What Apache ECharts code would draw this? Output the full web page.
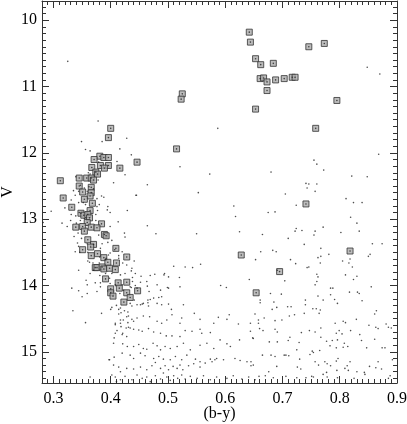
<!DOCTYPE html>
<html>
<head>
<meta charset="utf-8">
<script src="https://cdn.jsdelivr.net/npm/echarts@6/dist/echarts.min.js"></script>
<style>
  html, body { margin: 0; padding: 0; background: #fff; }
  #cmd { width: 407px; height: 424px; }
</style>
</head>
<body>
<div id="cmd"></div>
<script>
// axis ranges and labelled ticks
const xRange = [0.28, 0.90]
const yRange = [9.71, 15.47]
const xTicks = [0.3, 0.4, 0.5, 0.6, 0.7, 0.8, 0.9]
const yTicks = [10, 11, 12, 13, 14, 15]

// boxed stars (b-y, V)
const members = [
  [0.400, 11.63], [0.396, 11.77], [0.381, 12.05], [0.388, 12.07], [0.396, 12.07],
  [0.371, 12.10], [0.382, 12.19], [0.396, 12.19], [0.367, 12.22], [0.389, 12.23],
  [0.416, 12.23], [0.446, 12.14], [0.374, 12.29], [0.377, 12.32], [0.312, 12.42],
  [0.345, 12.38], [0.358, 12.38], [0.366, 12.38], [0.370, 12.41], [0.345, 12.50],
  [0.366, 12.52], [0.351, 12.59], [0.366, 12.60], [0.364, 12.65], [0.317, 12.68],
  [0.354, 12.70], [0.368, 12.76], [0.332, 12.82], [0.364, 12.87], [0.348, 12.91],
  [0.353, 12.94], [0.360, 12.93], [0.363, 12.98], [0.359, 13.05], [0.384, 13.07],
  [0.339, 13.12], [0.351, 13.11], [0.354, 13.18], [0.366, 13.12], [0.376, 13.13],
  [0.389, 13.23], [0.392, 13.25], [0.360, 13.31], [0.370, 13.38], [0.365, 13.42],
  [0.351, 13.46], [0.409, 13.44], [0.377, 13.52], [0.366, 13.55], [0.388, 13.58],
  [0.428, 13.57], [0.395, 13.65], [0.410, 13.66], [0.373, 13.73], [0.376, 13.73],
  [0.385, 13.72], [0.388, 13.75], [0.398, 13.74], [0.408, 13.76], [0.391, 13.90],
  [0.413, 13.96], [0.428, 13.95], [0.447, 14.08], [0.400, 14.05], [0.415, 14.04],
  [0.400, 14.11], [0.404, 14.16], [0.428, 14.11], [0.434, 14.18], [0.423, 14.25],
  [0.642, 10.18], [0.644, 10.33], [0.746, 10.40], [0.773, 10.35], [0.653, 10.58],
  [0.662, 10.67], [0.684, 10.65], [0.661, 10.88], [0.667, 10.87], [0.673, 10.93],
  [0.688, 10.90], [0.703, 10.88], [0.717, 10.86], [0.722, 10.86], [0.673, 11.06],
  [0.795, 11.21], [0.653, 11.34], [0.758, 11.63], [0.525, 11.11], [0.523, 11.19],
  [0.515, 11.94], [0.741, 12.77], [0.628, 13.54], [0.818, 13.48], [0.695, 13.79],
  [0.654, 14.11]
]

// field stars (b-y, V)
const field = [
  [0.325, 10.62], [0.587, 11.63], [0.868, 12.02], [0.848, 10.71], [0.870, 10.81],
  [0.436, 12.03], [0.521, 12.21], [0.573, 12.32], [0.464, 12.48], [0.445, 12.64],
  [0.553, 12.60], [0.615, 12.80], [0.618, 12.96], [0.464, 13.10], [0.479, 13.22],
  [0.550, 13.22], [0.625, 13.19], [0.441, 13.63], [0.510, 13.71], [0.530, 13.72],
  [0.543, 13.73], [0.557, 13.68], [0.653, 13.61], [0.436, 13.78], [0.443, 13.82],
  [0.477, 13.83], [0.493, 13.84], [0.520, 13.88], [0.438, 13.88], [0.452, 13.95],
  [0.438, 13.94], [0.464, 14.01], [0.443, 14.00], [0.436, 14.03], [0.499, 14.03],
  [0.521, 14.02], [0.467, 14.09], [0.592, 14.00], [0.602, 14.03], [0.642, 13.91],
  [0.755, 12.11], [0.760, 12.17], [0.772, 12.26], [0.680, 12.29], [0.821, 12.35],
  [0.848, 12.36], [0.741, 12.46], [0.746, 12.47], [0.760, 12.47], [0.743, 12.53],
  [0.757, 12.58], [0.705, 12.62], [0.811, 12.69], [0.824, 12.75], [0.839, 12.75],
  [0.724, 12.79], [0.675, 12.90], [0.687, 12.89], [0.819, 12.97], [0.830, 13.06],
  [0.724, 13.14], [0.722, 13.18], [0.734, 13.17], [0.757, 13.18], [0.771, 13.12],
  [0.755, 13.24], [0.802, 13.20], [0.834, 13.18], [0.665, 13.23], [0.710, 13.29],
  [0.738, 13.38], [0.767, 13.44], [0.662, 13.49], [0.683, 13.47], [0.689, 13.49],
  [0.857, 13.37], [0.874, 13.37], [0.853, 13.53], [0.850, 13.56], [0.781, 13.53],
  [0.767, 13.56], [0.762, 13.58], [0.714, 13.61], [0.805, 13.63], [0.818, 13.60],
  [0.816, 13.66], [0.723, 13.67], [0.766, 13.66], [0.743, 13.73], [0.746, 13.72],
  [0.822, 13.72], [0.760, 13.83], [0.762, 13.87], [0.810, 13.84], [0.830, 13.86],
  [0.824, 13.91], [0.704, 13.93], [0.760, 13.94], [0.757, 13.99], [0.855, 14.02],
  [0.784, 14.04], [0.691, 13.77],
  [0.679, 14.12], [0.661, 14.22], [0.661, 14.26], [0.685, 14.25], [0.698, 14.13],
  [0.740, 14.22], [0.762, 14.16], [0.784, 14.14], [0.788, 14.04], [0.817, 14.10],
  [0.831, 14.10], [0.834, 14.12], [0.771, 14.22], [0.791, 14.21], [0.796, 14.27],
  [0.839, 14.23], [0.709, 14.32], [0.715, 14.32], [0.690, 14.33], [0.740, 14.29],
  [0.753, 14.35], [0.759, 14.35], [0.766, 14.37], [0.682, 14.36], [0.764, 14.42],
  [0.738, 14.42], [0.721, 14.44], [0.712, 14.46], [0.864, 14.38], [0.861, 14.43],
  [0.687, 14.53], [0.699, 14.52], [0.668, 14.49], [0.658, 14.57], [0.829, 14.51],
  [0.806, 14.54], [0.810, 14.56], [0.792, 14.57], [0.851, 14.60], [0.863, 14.63],
  [0.867, 14.65], [0.881, 14.58], [0.885, 14.63], [0.890, 14.64], [0.666, 14.68],
  [0.660, 14.65], [0.687, 14.66], [0.691, 14.70], [0.747, 14.68], [0.733, 14.71],
  [0.757, 14.70], [0.767, 14.64], [0.794, 14.72], [0.799, 14.68], [0.819, 14.68],
  [0.804, 14.73], [0.835, 14.74], [0.644, 14.69], [0.649, 14.80], [0.677, 14.85],
  [0.691, 14.85], [0.713, 14.78], [0.710, 14.83], [0.729, 14.86], [0.767, 14.78],
  [0.777, 14.84], [0.787, 14.83], [0.796, 14.82], [0.808, 14.87], [0.814, 14.92],
  [0.783, 14.91], [0.794, 14.94], [0.806, 14.93], [0.838, 14.83], [0.861, 14.81],
  [0.874, 14.94], [0.879, 14.94], [0.847, 14.94], [0.725, 14.97], [0.752, 14.99],
  [0.765, 14.98], [0.748, 15.04], [0.754, 15.01], [0.665, 15.05], [0.680, 15.05],
  [0.687, 15.07], [0.703, 15.05], [0.706, 15.05], [0.711, 15.06], [0.730, 15.11],
  [0.797, 15.10], [0.794, 15.14], [0.774, 15.15], [0.778, 15.18], [0.757, 15.15],
  [0.763, 15.20], [0.784, 15.21], [0.818, 15.15], [0.867, 15.15], [0.863, 15.24],
  [0.873, 15.26], [0.852, 15.22], [0.813, 15.21], [0.809, 15.25], [0.795, 15.28],
  [0.815, 15.28], [0.830, 15.30], [0.843, 15.31], [0.726, 15.23], [0.732, 15.26],
  [0.690, 15.22], [0.676, 15.30], [0.645, 15.15], [0.645, 15.21], [0.777, 15.31],
  [0.751, 15.37], [0.771, 15.34], [0.778, 15.38], [0.796, 15.39], [0.825, 15.40],
  [0.844, 15.34], [0.659, 15.37], [0.670, 15.36], [0.684, 15.39], [0.706, 15.37],
  [0.725, 15.39], [0.741, 15.39], [0.754, 15.38], [0.885, 15.40], [0.892, 15.12],
  [0.888, 15.36],
  [0.384, 14.42], [0.410, 14.30], [0.402, 14.33], [0.417, 14.34], [0.414, 14.43],
  [0.424, 14.38], [0.430, 14.40], [0.434, 14.27], [0.437, 14.31], [0.446, 14.29],
  [0.455, 14.28], [0.457, 14.27], [0.465, 14.26], [0.469, 14.21], [0.466, 14.31],
  [0.484, 14.18], [0.489, 14.29], [0.501, 14.28], [0.506, 14.36], [0.527, 14.29],
  [0.521, 14.57], [0.524, 14.49], [0.546, 14.42], [0.556, 14.51], [0.580, 14.57],
  [0.588, 14.48], [0.603, 14.51], [0.607, 14.44], [0.623, 14.58], [0.644, 14.57],
  [0.652, 14.43], [0.658, 14.52], [0.417, 14.52], [0.428, 14.47], [0.437, 14.51],
  [0.440, 14.54], [0.446, 14.49], [0.457, 14.46], [0.468, 14.47], [0.481, 14.54],
  [0.489, 14.57], [0.498, 14.52], [0.507, 14.44], [0.408, 14.59], [0.418, 14.62],
  [0.427, 14.64], [0.434, 14.64], [0.440, 14.66], [0.449, 14.67], [0.455, 14.69],
  [0.466, 14.65], [0.475, 14.70], [0.487, 14.72], [0.497, 14.76], [0.507, 14.76],
  [0.521, 14.77], [0.530, 14.68], [0.542, 14.69], [0.556, 14.66], [0.559, 14.72],
  [0.574, 14.71], [0.591, 14.82], [0.603, 14.88], [0.609, 14.92], [0.625, 14.82],
  [0.648, 14.79], [0.408, 14.72], [0.405, 14.87], [0.421, 14.88], [0.429, 14.92],
  [0.440, 14.92], [0.449, 14.89], [0.457, 14.95], [0.463, 14.96], [0.474, 14.87],
  [0.481, 14.91], [0.487, 14.97], [0.495, 14.92], [0.504, 14.95], [0.516, 14.92],
  [0.527, 14.87], [0.539, 14.97], [0.556, 14.90], [0.568, 14.87], [0.580, 14.95],
  [0.420, 15.02], [0.434, 15.05], [0.440, 15.10], [0.452, 15.02], [0.460, 15.06],
  [0.475, 15.10], [0.484, 15.07], [0.492, 15.11], [0.504, 15.12], [0.513, 15.07],
  [0.524, 15.12], [0.533, 15.05], [0.548, 15.11], [0.556, 15.15], [0.574, 15.11],
  [0.582, 15.12], [0.398, 15.12], [0.405, 15.20], [0.414, 15.23], [0.428, 15.25],
  [0.440, 15.26], [0.452, 15.23], [0.463, 15.27], [0.472, 15.21], [0.478, 15.16],
  [0.487, 15.25], [0.495, 15.21], [0.501, 15.27], [0.509, 15.22], [0.516, 15.25],
  [0.521, 15.20], [0.526, 15.27], [0.536, 15.21], [0.545, 15.18], [0.556, 15.23],
  [0.565, 15.17], [0.577, 15.15], [0.585, 15.10], [0.597, 15.12], [0.617, 15.10],
  [0.626, 15.13], [0.638, 15.15], [0.649, 15.20], [0.402, 15.35], [0.408, 15.38],
  [0.417, 15.42], [0.425, 15.37], [0.437, 15.42], [0.446, 15.35], [0.455, 15.40],
  [0.463, 15.38], [0.469, 15.45], [0.478, 15.36], [0.487, 15.41], [0.492, 15.32],
  [0.498, 15.38], [0.504, 15.43], [0.510, 15.36], [0.517, 15.40], [0.524, 15.35],
  [0.530, 15.41], [0.539, 15.37], [0.551, 15.40], [0.562, 15.36], [0.574, 15.42],
  [0.585, 15.38], [0.603, 15.40], [0.614, 15.36], [0.629, 15.41], [0.641, 15.38],
  [0.652, 15.42],
  [0.359, 13.99], [0.373, 13.96], [0.382, 13.96], [0.334, 14.38], [0.356, 14.56],
  [0.364, 15.38], [0.397, 15.12], [0.406, 15.08], [0.417, 15.30], [0.410, 15.45],
  [0.400, 14.36], [0.414, 14.36], [0.418, 14.41], [0.408, 14.57], [0.417, 14.57],
  [0.422, 14.52], [0.430, 14.56], [0.411, 14.68], [0.421, 14.72], [0.406, 14.79],
  [0.420, 14.74], [0.428, 14.77], [0.431, 14.46], [0.431, 14.63],
  [0.296, 12.88], [0.315, 13.06], [0.330, 13.02], [0.340, 13.06], [0.343, 13.21],
  [0.336, 13.26], [0.344, 13.41], [0.346, 13.50], [0.360, 13.50], [0.360, 13.63],
  [0.344, 13.77], [0.363, 13.65], [0.357, 13.92], [0.381, 13.85], [0.398, 13.89],
  [0.424, 13.21], [0.425, 13.27], [0.420, 13.49], [0.428, 13.69], [0.437, 13.74],
  [0.434, 14.02], [0.446, 14.04], [0.417, 13.84], [0.414, 13.55], [0.399, 13.51],
  [0.407, 13.46], [0.402, 13.32], [0.385, 13.37], [0.382, 13.44], [0.395, 13.35],
  [0.381, 13.57], [0.392, 13.59], [0.370, 13.77], [0.364, 13.82], [0.380, 13.66],
  [0.332, 14.04], [0.344, 14.08], [0.350, 14.17],
  [0.378, 11.52], [0.349, 11.83], [0.385, 11.83], [0.428, 11.78], [0.356, 11.95],
  [0.364, 11.97], [0.416, 11.94], [0.411, 12.13], [0.379, 12.14], [0.425, 12.33],
  [0.361, 12.30], [0.364, 12.32], [0.339, 12.36], [0.378, 12.41], [0.405, 12.45],
  [0.347, 12.49], [0.354, 12.53], [0.370, 12.54], [0.335, 12.57], [0.344, 12.58],
  [0.338, 12.64], [0.331, 12.71], [0.344, 12.75], [0.352, 12.75], [0.384, 12.65],
  [0.388, 12.67], [0.376, 12.69], [0.376, 12.81], [0.380, 12.78], [0.399, 12.90],
  [0.429, 12.87], [0.444, 12.64], [0.320, 12.83], [0.331, 12.93], [0.339, 12.95],
  [0.345, 12.90], [0.374, 12.93], [0.394, 12.86], [0.413, 13.04], [0.347, 13.02],
  [0.374, 13.02], [0.354, 12.99], [0.356, 12.78], [0.395, 12.81], [0.377, 12.87],
  [0.359, 12.58], [0.362, 12.51],
  [0.282, 13.05], [0.324, 13.11], [0.349, 13.29], [0.342, 13.36], [0.338, 13.49],
  [0.359, 13.37], [0.379, 13.24], [0.399, 13.11], [0.369, 13.66], [0.391, 13.61],
  [0.396, 13.54], [0.414, 13.59], [0.421, 13.66], [0.425, 13.82], [0.453, 13.86],
  [0.469, 13.85], [0.494, 13.82], [0.501, 13.87], [0.463, 13.94], [0.481, 13.99],
  [0.487, 14.07], [0.489, 14.17], [0.501, 14.04], [0.399, 13.97], [0.408, 13.99],
  [0.420, 13.99], [0.422, 14.07], [0.416, 14.12], [0.441, 14.22], [0.452, 14.29],
  [0.465, 14.22], [0.475, 14.19], [0.481, 14.27], [0.382, 14.02], [0.376, 14.09],
  [0.359, 14.12], [0.391, 13.82], [0.402, 13.82]
]

// unlabelled tick positions between the labelled ones
const xMinor = []
for (let i = 28; i <= 90; i++) if (i % 10 !== 0) xMinor.push(i / 100)
const yMinor = []
for (let i = 98; i <= 154; i++) if (i % 10 !== 0) yMinor.push(i / 10)

const serif = "'Liberation Serif', 'DejaVu Serif', 'Times New Roman', serif"
const ink = '#333'

function axis (pos, range, ticks, len, opts) {
  return Object.assign({
    type: 'value',
    position: pos,
    min: range[0],
    max: range[1],
    axisLine: { show: false, onZero: false },
    axisTick: { show: true, inside: true, length: len, customValues: ticks, lineStyle: { color: ink, width: 1 } },
    axisLabel: { show: false },
    splitLine: { show: false }
  }, opts || {})
}

const frame = { show: true, onZero: false, lineStyle: { color: ink, width: 1 } }
const labelFont = { fontFamily: serif, fontSize: 16, color: '#000' }

const chart = echarts.init(document.getElementById('cmd'))

chart.setOption({
  animation: false,
  textStyle: { fontFamily: serif },
  grid: { left: 42, right: 10, top: 1, bottom: 41, containLabel: false, outerBoundsMode: 'none' },
  xAxis: [
    axis('bottom', xRange, xTicks, 7, {
      axisLine: frame,
      axisLabel: Object.assign({ show: true, customValues: xTicks, margin: 8, formatter: v => v.toFixed(1) }, labelFont),
      name: '(b-y)',
      nameLocation: 'middle',
      nameGap: 23,
      nameMoveOverlap: false,
      nameTextStyle: labelFont
    }),
    axis('bottom', xRange, xMinor, 4),
    axis('top', xRange, xTicks, 7, { axisLine: frame }),
    axis('top', xRange, xMinor, 4)
  ],
  yAxis: [
    axis('left', yRange, yTicks, 7, {
      inverse: true,
      axisLine: frame,
      axisLabel: Object.assign({ show: true, customValues: yTicks, margin: 5, formatter: v => String(Math.round(v)) }, labelFont),
      name: 'V',
      nameLocation: 'middle',
      nameGap: 26,
      nameMoveOverlap: false,
      nameTextStyle: labelFont
    }),
    axis('left', yRange, yMinor, 4, { inverse: true }),
    axis('right', yRange, yTicks, 7, { inverse: true, axisLine: frame }),
    axis('right', yRange, yMinor, 4, { inverse: true })
  ],
  series: [
    {
      name: 'members',
      type: 'scatter',
      data: members,
      symbol: 'rect',
      symbolSize: 6,
      itemStyle: { color: '#ababab', borderColor: '#333', borderWidth: 1 },
      z: 2
    },
    {
      name: 'field',
      type: 'scatter',
      data: field,
      symbolSize: 1.6,
      itemStyle: { color: '#222' },
      z: 3
    },
    {
      name: 'member centres',
      type: 'scatter',
      data: members,
      symbolSize: 1.6,
      itemStyle: { color: '#222' },
      z: 4
    }
  ]
})

window.addEventListener('resize', () => {
  chart.resize()
})
</script>
</body>
</html>
